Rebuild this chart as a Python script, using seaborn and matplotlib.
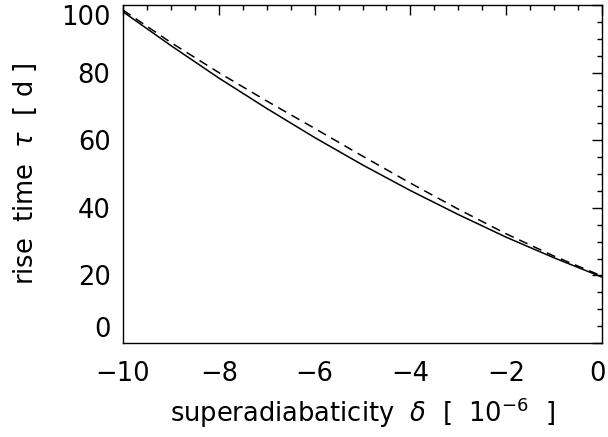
"""
Rise time vs superadiabaticity (IDL-style replica)
"""
import numpy as np
import pandas as pd
import matplotlib
matplotlib.use("Agg")
import matplotlib.pyplot as plt
import matplotlib.transforms as mtransforms
from matplotlib.ticker import MultipleLocator
import seaborn as sns

# valores
delta = [-10, -9, -8, -7, -6, -5, -4, -3, -2, -1, 0]
tau_solid = [98.0, 88.0, 78.4, 69.4, 60.8, 52.7, 45.1, 38.0, 31.3, 25.2, 19.5]
tau_dashed = [98.5, 88.9, 80.0, 71.6, 63.5, 55.3, 47.3, 39.6, 32.3, 25.7, 19.8]
xticks = [-10, -8, -6, -4, -2, 0]
yticks = [0, 20, 40, 60, 80, 100]

sns.set_theme(style="white")
plt.rcParams.update({
    "font.family": ["DejaVu Sans"],
    "mathtext.fontset": "dejavusans",
    "axes.unicode_minus": True,
    "axes.edgecolor": "black",
    "axes.linewidth": 1.0,
})

df = pd.DataFrame({"delta": delta, "solid": tau_solid, "dashed": tau_dashed})

fig = plt.figure(figsize=(6.08, 4.37), dpi=100)
ax = fig.add_axes([123 / 608, 94 / 437, 479 / 608, 338 / 437])

sns.lineplot(data=df, x="delta", y="solid", ax=ax, color="black", lw=1.1)
sns.lineplot(data=df, x="delta", y="dashed", ax=ax, color="black", lw=1.1,
             linestyle=(0, (6, 4)))

ax.set_xlim(-10, 0)
ax.set_ylim(0, 100)
ax.set_xticks(xticks)
ax.set_yticks(yticks)
ax.xaxis.set_minor_locator(MultipleLocator(0.5))
ax.yaxis.set_minor_locator(MultipleLocator(5))
ax.tick_params(which="both", direction="in", top=True, right=True,
               color="black", width=1.0, labelsize=18.5, labelcolor="black")
ax.tick_params(which="major", length=7.2)
ax.tick_params(which="minor", length=3.6)
ax.tick_params(axis="x", which="major", pad=13)
ax.tick_params(axis="y", which="major", pad=9)

# IDL pone la primera y ultima etiqueta del eje y dentro del recuadro
ylabs = ax.get_yticklabels()
ylabs[0].set_va("bottom")
ylabs[-1].set_va("top")
# el "0" del eje x queda pegado al borde derecho
xlabs = ax.get_xticklabels()
xlabs[-1].set_ha("right")
xlabs[-1].set_transform(xlabs[-1].get_transform() +
                        mtransforms.ScaledTranslation(4 / 100, 0, fig.dpi_scale_trans))

ax.set_xlabel(r"superadiabaticity  $\delta$  [  $10^{-6}$  ]", fontsize=18.5,
              color="black", labelpad=6)
ax.set_ylabel(r"rise  time  $\tau$  [ d ]", fontsize=18.5, color="black", labelpad=16)

fig.savefig("out.png", dpi=100)
